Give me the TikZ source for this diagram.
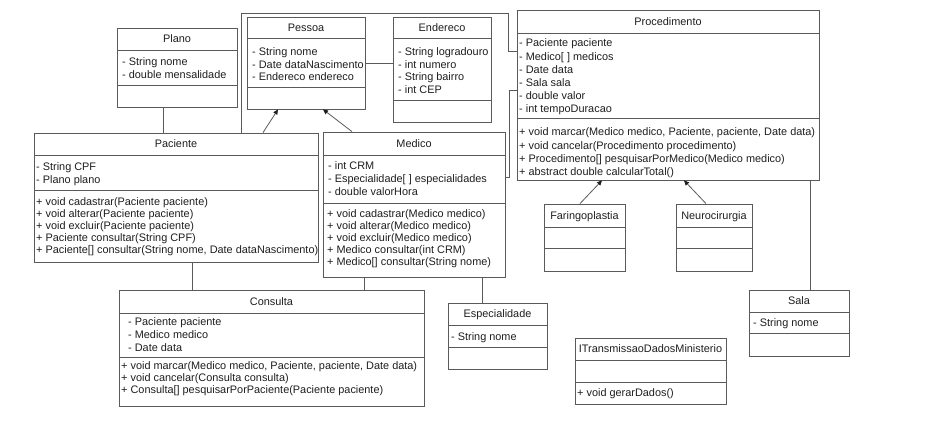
\documentclass[tikz,border=0pt]{standalone}
\usepackage{fontspec}
\setmainfont{Liberation Sans}
\usetikzlibrary{fit,arrows.meta}
\definecolor{boxline}{HTML}{5A5A5A}
\definecolor{txt}{HTML}{1E1E1E}
\tikzset{
  classbox/.style={draw=boxline, line width=0.8pt, inner sep=0pt, fill=none},
  sepline/.style={draw=boxline, line width=0.8pt},
  titletext/.style={text=txt, inner sep=0pt, font=\fontsize{10.9}{12}\selectfont},
  listtext/.style={text=txt, inner sep=0pt, font=\fontsize{10.9}{12}\selectfont},
  assoc/.style={draw=boxline, line width=0.8pt},
  inherit/.style={draw=boxline, line width=0.8pt, -{Triangle[length=5pt,width=4.5pt,color=txt]}},
}
\newcommand\umlclass[8]{%
  \node[classbox, fit={(#2,#3) (#4,#5)}] (#1) {};
  \draw[sepline] (#2,#6) -- (#4,#6);
  \draw[sepline] (#2,#7) -- (#4,#7);
  \node[titletext, anchor=base] (#1-title) at ({(#2+#4)/2},{(#3+#6)/2+3.8}) {#8};
}
\newcommand\umllines[5]{%
  \foreach \t [count=\i] in {#5} {\node[listtext, anchor=base west] (#1-\i) at (#2,{#3+(\i-1)*#4}) {\t};}
}
\begin{document}
\begin{tikzpicture}[x=1pt,y=-1pt]
\useasboundingbox (0,0) rectangle (940,424);
% classes
\umlclass{plano}{117}{28}{237}{107}{50}{85}{Plano}
\umllines{plano-a}{122}{65.5}{13}{{- String nome},{- double mensalidade}}

\umlclass{pessoa}{247}{17}{365}{109}{38}{87}{Pessoa}
\umllines{pessoa-a}{252}{55.8}{12.5}{{- String nome},{- Date dataNascimento},{- Endereco endereco}}

\umlclass{endereco}{393}{17}{491}{122}{38}{100}{Endereco}
\umllines{endereco-a}{398}{55.8}{12.4}{{- String logradouro},{- int numero},{- String bairro},{- int CEP}}

\umlclass{proc}{517}{10}{819}{180}{33}{118}{Procedimento}
\umllines{proc-a}{519}{46.8}{13.2}{{- Paciente paciente},{- Medico[ ] medicos},{- Date data},{- Sala sala},{- double valor},{- int tempoDuracao}}
\umllines{proc-m}{519}{135.8}{13.3}{{+ void marcar(Medico medico, Paciente, paciente, Date data)},{+ void cancelar(Procedimento procedimento)},{+ Procedimento[] pesquisarPorMedico(Medico medico)},{+ abstract double calcularTotal()}}

\umlclass{paciente}{34}{133}{318}{262}{155}{190}{Paciente}
\umllines{paciente-a}{36}{170.8}{12.5}{{- String CPF},{- Plano plano}}
\umllines{paciente-m}{36}{205.8}{12}{{+ void cadastrar(Paciente paciente)},{+ void alterar(Paciente paciente)},{+ void excluir(Paciente paciente)},{+ Paciente consultar(String CPF)},{+ Paciente[] consultar(String nome, Date dataNascimento)}}

\umlclass{medico}{323}{132}{505}{277}{155}{203}{Medico}
\umllines{medico-a}{328}{169.8}{13}{{- int CRM},{- Especialidade[ ] especialidades},{- double valorHora}}
\umllines{medico-m}{327}{217.8}{12}{{+ void cadastrar(Medico medico)},{+ void alterar(Medico medico)},{+ void excluir(Medico medico)},{+ Medico consultar(int CRM)},{+ Medico[] consultar(String nome)}}

\umlclass{consulta}{119}{290}{424}{406}{313}{357}{Consulta}
\umllines{consulta-a}{128}{325.8}{13}{{- Paciente paciente},{- Medico medico},{- Date data}}
\umllines{consulta-m}{121}{369.8}{12}{{+ void marcar(Medico medico, Paciente, paciente, Date data)},{+ void cancelar(Consulta consulta)},{+ Consulta[] pesquisarPorPaciente(Paciente paciente)}}

\umlclass{espec}{448}{303}{547}{369}{325}{347}{Especialidade}
\umllines{espec-a}{451}{340.8}{12}{{- String nome}}

\umlclass{faringo}{544}{204}{625}{271}{227}{248}{Faringoplastia}
\umlclass{neuro}{676}{204}{752}{271}{227}{248}{Neurocirurgia}

\umlclass{sala}{749}{290}{849}{356}{312}{333}{Sala}
\umllines{sala-a}{753}{326.8}{12}{{- String nome}}

\umlclass{itrans}{575}{338}{726}{404}{360}{382}{ITransmissaoDadosMinisterio}
\umllines{itrans-m}{577}{396.8}{12}{{+ void gerarDados()}}

% connectors
\draw[assoc] (163,0 |- plano.south) -- (163,0 |- paciente.north);
\draw[assoc] (pessoa.east |- 0,63) -- (endereco.west |- 0,63);
\draw[inherit] (263,0 |- paciente.north) -- (278,0 |- pessoa.south);
\draw[inherit] (352,0 |- medico.north) -- (323,0 |- pessoa.south);
\draw[assoc] (241,0 |- paciente.north) -- (241,13) -- (508,13) -- (508,51) -- (proc.west |- 0,51);
\draw[assoc] (medico.east |- 0,177) -- (509,177) -- (509,90) -- (proc.west |- 0,90);
\draw[assoc] (192,0 |- paciente.south) -- (192,0 |- consulta.north);
\draw[assoc] (364,0 |- medico.south) -- (364,0 |- consulta.north);
\draw[assoc] (482,0 |- medico.south) -- (482,0 |- espec.north);
\draw[inherit] (580,0 |- faringo.north) -- (602,0 |- proc.south);
\draw[inherit] (706,0 |- neuro.north) -- (684,0 |- proc.south);
\draw[assoc] (810,0 |- proc.south) -- (810,0 |- sala.north);
\end{tikzpicture}
\end{document}
